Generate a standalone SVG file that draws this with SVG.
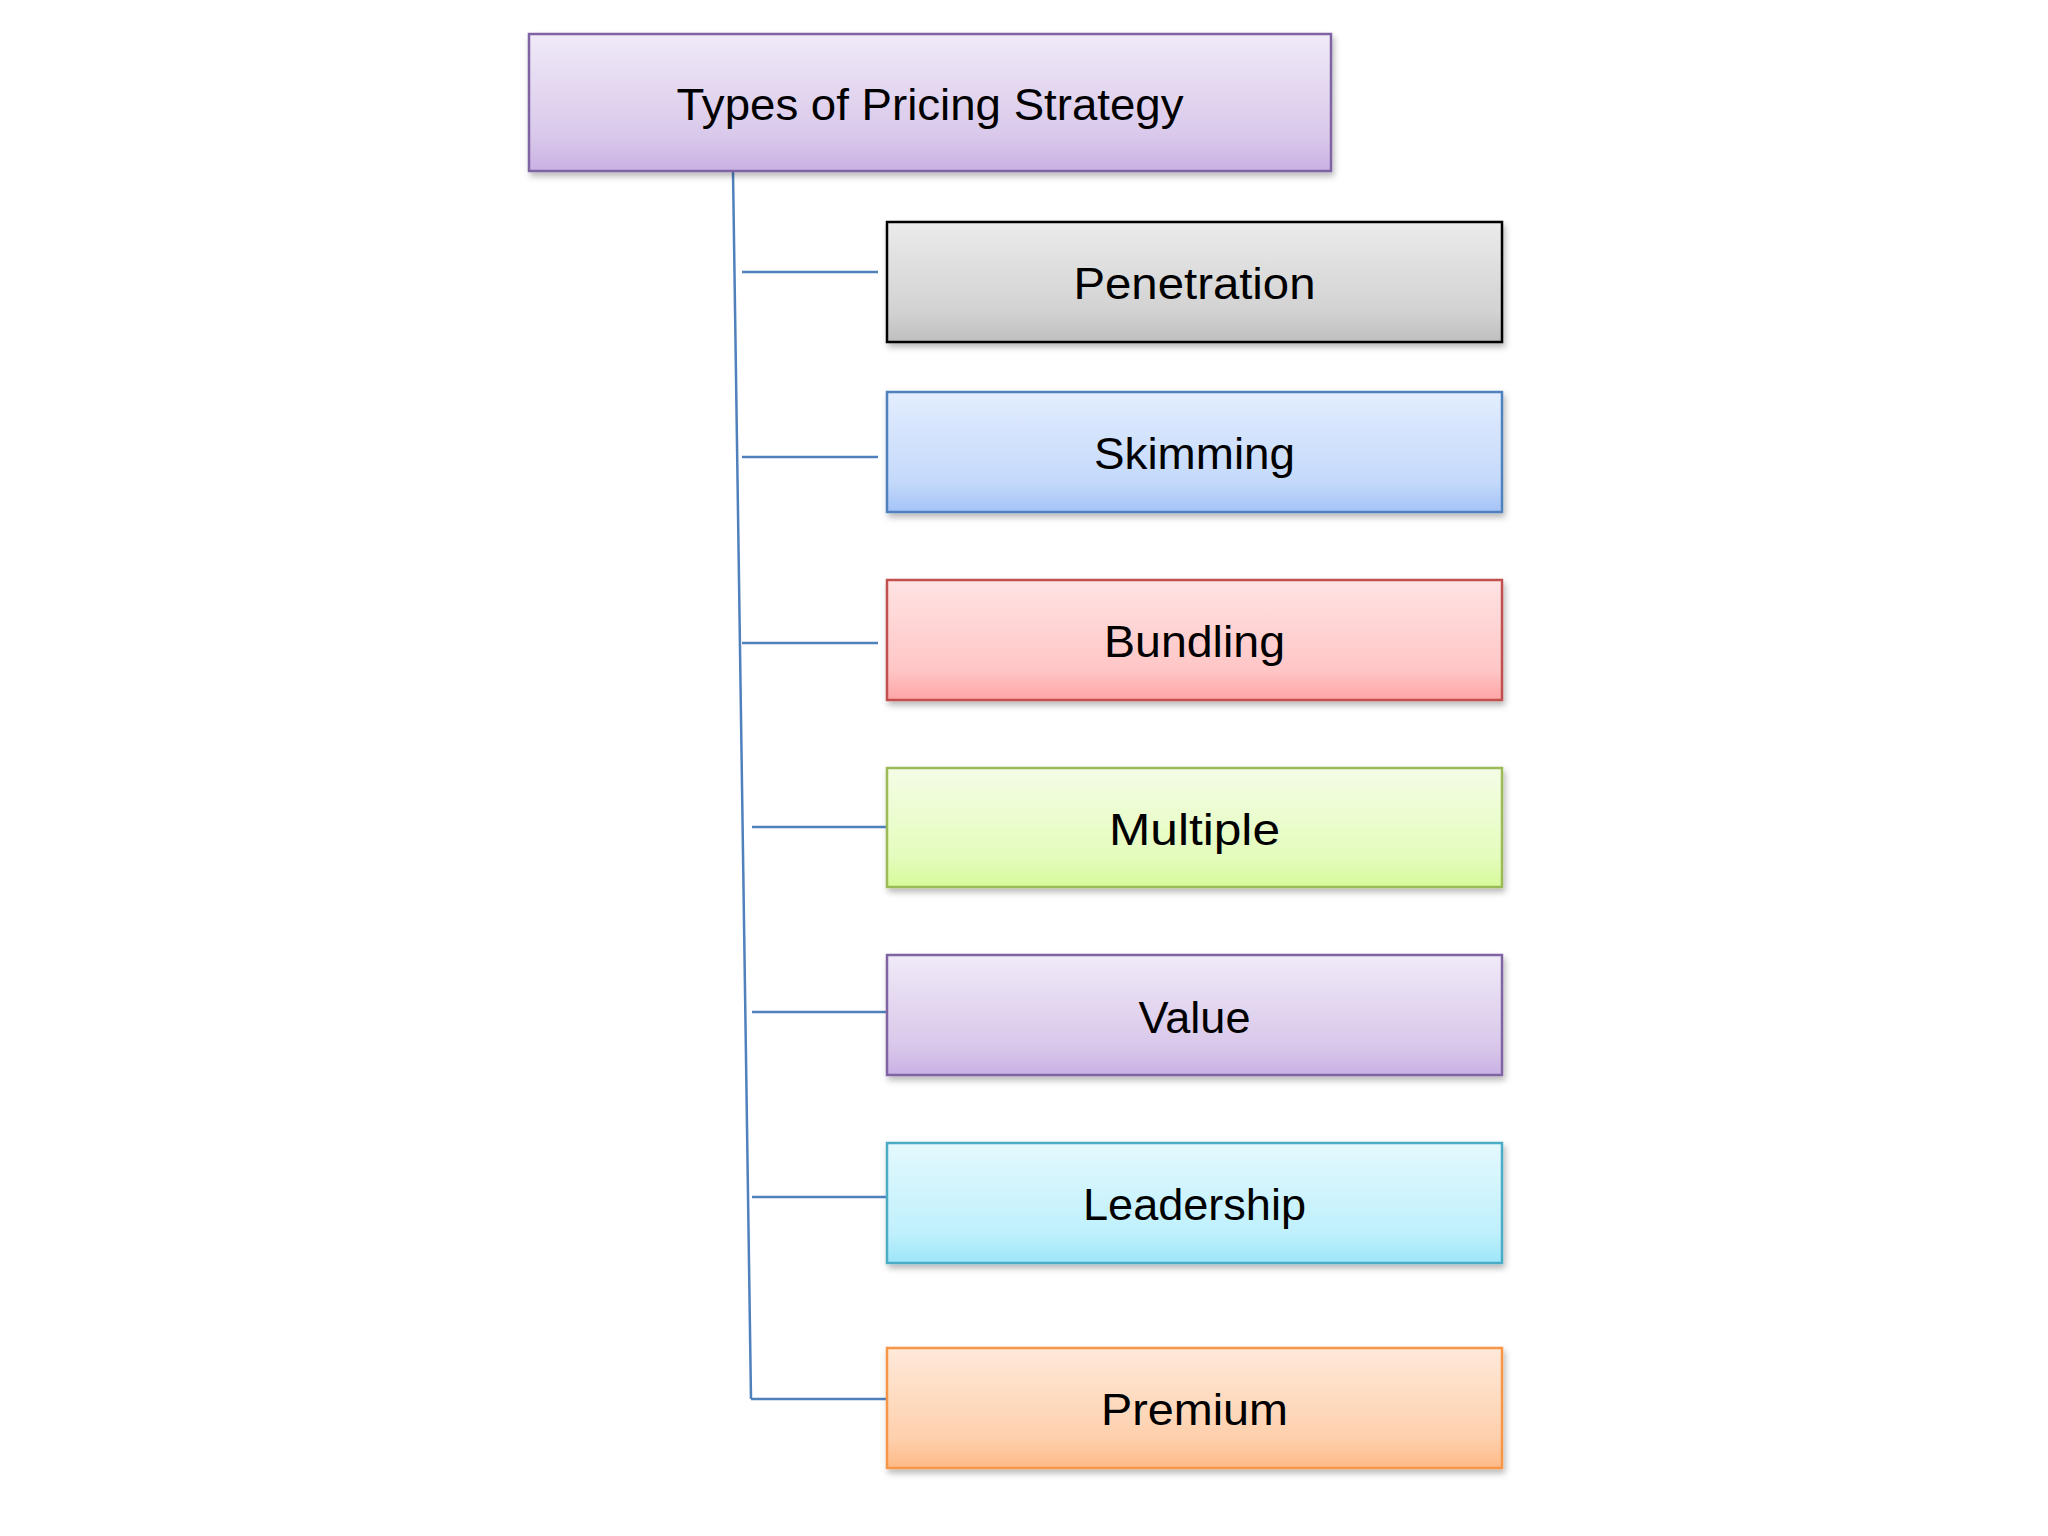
<svg xmlns="http://www.w3.org/2000/svg" width="2048" height="1536" viewBox="0 0 2048 1536">
<defs>
<filter id="sh" x="-5%" y="-10%" width="110%" height="130%">
<feDropShadow dx="2" dy="4" stdDeviation="3" flood-color="#000" flood-opacity="0.28"/>
</filter>
<linearGradient id="gPurple" x1="0" y1="0" x2="0" y2="1">
<stop offset="0" stop-color="#f0eaf8"/><stop offset="0.75" stop-color="#d9c8ea"/><stop offset="1" stop-color="#c9b1e4"/>
</linearGradient>
<linearGradient id="gGray" x1="0" y1="0" x2="0" y2="1">
<stop offset="0" stop-color="#ebebeb"/><stop offset="0.75" stop-color="#d2d2d2"/><stop offset="1" stop-color="#bfbfbf"/>
</linearGradient>
<linearGradient id="gBlue" x1="0" y1="0" x2="0" y2="1">
<stop offset="0" stop-color="#e3edfe"/><stop offset="0.75" stop-color="#c4d9fb"/><stop offset="1" stop-color="#a4c3f7"/>
</linearGradient>
<linearGradient id="gRed" x1="0" y1="0" x2="0" y2="1">
<stop offset="0" stop-color="#ffe3e3"/><stop offset="0.75" stop-color="#ffc6c6"/><stop offset="1" stop-color="#ffa5a5"/>
</linearGradient>
<linearGradient id="gGreen" x1="0" y1="0" x2="0" y2="1">
<stop offset="0" stop-color="#f4fde6"/><stop offset="0.75" stop-color="#e4fcbc"/><stop offset="1" stop-color="#d7fa9a"/>
</linearGradient>
<linearGradient id="gCyan" x1="0" y1="0" x2="0" y2="1">
<stop offset="0" stop-color="#e4f9fe"/><stop offset="0.75" stop-color="#bff0fc"/><stop offset="1" stop-color="#9de6fa"/>
</linearGradient>
<linearGradient id="gOrange" x1="0" y1="0" x2="0" y2="1">
<stop offset="0" stop-color="#ffe9da"/><stop offset="0.75" stop-color="#fed0ad"/><stop offset="1" stop-color="#fdba86"/>
</linearGradient>
</defs>
<style>
.box{stroke-width:2.5;filter:url(#sh)}
.lbl{font-family:"Liberation Sans",Arial,sans-serif;font-size:45px;fill:#000;text-anchor:middle}
.con{stroke:#4f81bd;stroke-width:2.5;fill:none}
</style>
<rect width="2048" height="1536" fill="#ffffff"/>
<g id="connectors">
<line class="con" x1="733" y1="171" x2="751" y2="1399"/>
<line class="con" x1="742" y1="272" x2="878" y2="272"/>
<line class="con" x1="742" y1="457" x2="878" y2="457"/>
<line class="con" x1="742" y1="643" x2="878" y2="643"/>
<line class="con" x1="752" y1="827" x2="887" y2="827"/>
<line class="con" x1="752" y1="1012" x2="887" y2="1012"/>
<line class="con" x1="752" y1="1197" x2="887" y2="1197"/>
<path class="con" d="M751 1399 H887"/>
</g>
<g id="root">
<rect class="box" x="529" y="34" width="802" height="137" fill="url(#gPurple)" stroke="#8064a2"/>
<text class="lbl" x="930" y="120" textLength="507" lengthAdjust="spacingAndGlyphs">Types of Pricing Strategy</text>
</g>
<g id="penetration">
<rect class="box" x="887" y="222" width="615" height="120" fill="url(#gGray)" stroke="#000" stroke-width="3.5"/>
<text class="lbl" x="1194.5" y="299" textLength="242" lengthAdjust="spacingAndGlyphs">Penetration</text>
</g>
<g id="skimming">
<rect class="box" x="887" y="392" width="615" height="120" fill="url(#gBlue)" stroke="#4f81bd"/>
<text class="lbl" x="1194.5" y="469" textLength="201" lengthAdjust="spacingAndGlyphs">Skimming</text>
</g>
<g id="bundling">
<rect class="box" x="887" y="580" width="615" height="120" fill="url(#gRed)" stroke="#c0504d"/>
<text class="lbl" x="1194.5" y="657" textLength="181" lengthAdjust="spacingAndGlyphs">Bundling</text>
</g>
<g id="multiple">
<rect class="box" x="887" y="768" width="615" height="119" fill="url(#gGreen)" stroke="#9bbb59"/>
<text class="lbl" x="1194.5" y="845" textLength="171" lengthAdjust="spacingAndGlyphs">Multiple</text>
</g>
<g id="value">
<rect class="box" x="887" y="955" width="615" height="120" fill="url(#gPurple)" stroke="#8064a2"/>
<text class="lbl" x="1194.5" y="1033" textLength="112" lengthAdjust="spacingAndGlyphs">Value</text>
</g>
<g id="leadership">
<rect class="box" x="887" y="1143" width="615" height="120" fill="url(#gCyan)" stroke="#4bacc6"/>
<text class="lbl" x="1194.5" y="1220" textLength="223" lengthAdjust="spacingAndGlyphs">Leadership</text>
</g>
<g id="premium">
<rect class="box" x="887" y="1348" width="615" height="120" fill="url(#gOrange)" stroke="#f79646"/>
<text class="lbl" x="1194.5" y="1425" textLength="187" lengthAdjust="spacingAndGlyphs">Premium</text>
</g>
</svg>
